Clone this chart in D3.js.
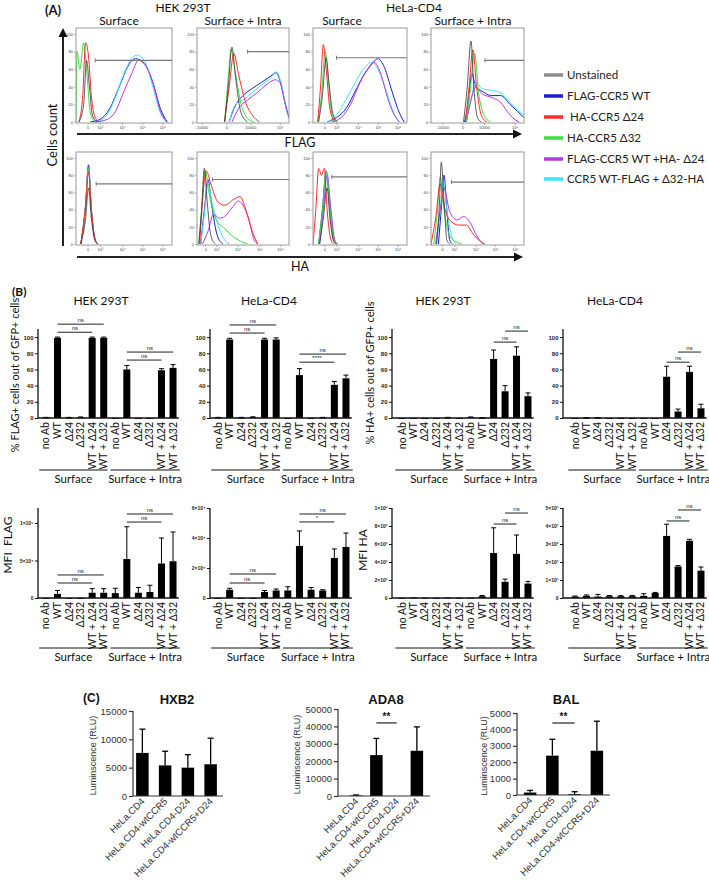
<!DOCTYPE html>
<html><head><meta charset="utf-8">
<script src="https://cdn.jsdelivr.net/npm/d3@7"></script>
<style>body{margin:0;background:#fff}svg{display:block}</style>
</head><body>
<svg id="c" width="709" height="880"></svg>
<script>
// ---------------- DATA ----------------
const seriesNames = ["Unstained","FLAG-CCR5 WT"," HA-CCR5 Δ24","HA-CCR5 Δ32","FLAG-CCR5 WT +HA- Δ24","CCR5 WT-FLAG + Δ32-HA"];
const seriesColors = ["#8c8c8c","#1c1cd2","#ff2a2a","#3edc3e","#b43ae6","#3ee4ff"];
const curveColors  = ["#333333","#1c1cd2","#ff2a2a","#3edc3e","#b43ae6","#3ee4ff"];

// histogram curves: [position fraction along axis, count]; order = seriesNames
const histHekSurfFlag = [
  [[0.03,0],[0.08,20],[0.11,70],[0.14,40],[0.17,8],[0.22,0]],
  [[0.15,0],[0.25,3],[0.35,15],[0.45,40],[0.55,65],[0.62,72],[0.7,68],[0.8,45],[0.88,15],[0.95,0]],
  [[0.03,0],[0.07,30],[0.1,90],[0.13,75],[0.16,30],[0.2,5],[0.25,0]],
  [[0.0,0],[0.01,80],[0.04,60],[0.08,90],[0.11,60],[0.15,10],[0.2,0]],
  [[0.2,0],[0.3,2],[0.4,10],[0.5,35],[0.58,55],[0.65,70],[0.72,65],[0.8,45],[0.88,12],[0.95,0]],
  [[0.2,0],[0.3,5],[0.4,25],[0.5,55],[0.58,72],[0.64,76],[0.72,68],[0.8,40],[0.88,10],[0.94,0]]
];
const histHekSIFlag = [
  [[0.3,0],[0.34,40],[0.38,85],[0.42,50],[0.48,10],[0.55,0]],
  [[0.35,0],[0.4,15],[0.5,30],[0.6,38],[0.7,45],[0.8,52],[0.86,56],[0.92,40],[0.97,15],[1.0,5]],
  [[0.3,0],[0.35,40],[0.4,78],[0.45,55],[0.52,25],[0.6,8],[0.68,0]],
  [[0.3,0],[0.34,50],[0.37,83],[0.41,60],[0.48,20],[0.56,3],[0.62,0]],
  [[0.38,0],[0.45,15],[0.55,25],[0.65,33],[0.75,42],[0.85,48],[0.9,45],[0.95,25],[1.0,5]],
  [[0.35,0],[0.42,20],[0.5,25],[0.6,33],[0.7,42],[0.8,50],[0.86,57],[0.92,42],[0.97,15],[1.0,5]]
];
const histHelaSurfFlag = [
  [[0.06,0],[0.1,30],[0.14,73],[0.17,45],[0.21,10],[0.26,0]],
  [[0.15,0],[0.25,5],[0.35,15],[0.45,35],[0.55,55],[0.62,65],[0.69,72],[0.76,62],[0.84,35],[0.92,10],[0.97,0]],
  [[0.05,0],[0.08,40],[0.11,88],[0.14,60],[0.18,15],[0.23,0]],
  [[0.05,0],[0.09,30],[0.13,80],[0.16,50],[0.2,10],[0.25,0]],
  [[0.2,0],[0.3,5],[0.4,20],[0.5,45],[0.58,60],[0.65,68],[0.72,55],[0.8,25],[0.88,5],[0.92,0]],
  [[0.15,0],[0.25,8],[0.35,25],[0.45,45],[0.55,62],[0.63,68],[0.7,58],[0.78,35],[0.86,10],[0.92,0]]
];
const histHelaSIFlag = [
  [[0.35,0],[0.39,40],[0.43,92],[0.46,40],[0.5,5],[0.54,0]],
  [[0.36,0],[0.4,20],[0.44,55],[0.48,40],[0.55,35],[0.65,30],[0.75,30],[0.85,20],[0.93,12],[1.0,5]],
  [[0.37,0],[0.41,40],[0.45,82],[0.49,40],[0.54,8],[0.6,0]],
  [[0.38,0],[0.42,35],[0.47,78],[0.51,35],[0.57,8],[0.64,0]],
  [[0.38,0],[0.43,25],[0.48,40],[0.55,32],[0.65,28],[0.75,22],[0.82,12],[0.9,3],[0.95,0]],
  [[0.38,0],[0.43,25],[0.48,45],[0.55,38],[0.65,36],[0.75,33],[0.85,22],[0.93,14],[1.0,8]]
];
const histHekSurfHA = [
  [[0.05,0],[0.1,30],[0.13,65],[0.16,30],[0.2,3],[0.23,0]],
  [[0.05,0],[0.1,45],[0.13,92],[0.16,40],[0.2,5],[0.23,0]],
  [[0.05,0],[0.1,45],[0.13,84],[0.16,40],[0.2,5],[0.23,0]],
  [[0.05,0],[0.1,45],[0.13,88],[0.16,40],[0.2,5],[0.23,0]],
  [[0.05,0],[0.1,45],[0.13,90],[0.16,40],[0.2,5],[0.23,0]],
  [[0.05,0],[0.1,45],[0.13,88],[0.16,40],[0.2,5],[0.23,0]]
];
const histHekSIHA = [
  [[0.02,0],[0.05,40],[0.08,88],[0.11,50],[0.15,10],[0.2,0]],
  [[0.04,0],[0.08,40],[0.12,75],[0.16,45],[0.22,10],[0.28,0]],
  [[0.03,0],[0.06,50],[0.1,85],[0.15,70],[0.22,50],[0.3,45],[0.4,52],[0.47,55],[0.53,40],[0.6,15],[0.66,0]],
  [[0.02,0],[0.05,40],[0.09,85],[0.13,60],[0.2,30],[0.3,18],[0.4,8],[0.5,2],[0.55,0]],
  [[0.06,0],[0.12,15],[0.18,35],[0.24,30],[0.3,32],[0.38,42],[0.45,50],[0.5,45],[0.56,30],[0.62,5],[0.66,0]],
  [[0.04,0],[0.08,35],[0.12,70],[0.16,50],[0.22,25],[0.3,5],[0.35,0]]
];
const histHelaSurfHA = [
  [[0.07,0],[0.11,30],[0.15,65],[0.18,30],[0.22,3],[0.25,0]],
  [[0.06,0],[0.1,40],[0.14,85],[0.18,40],[0.22,5],[0.25,0]],
  [[0.0,0],[0.03,40],[0.06,88],[0.09,80],[0.12,88],[0.15,40],[0.19,5],[0.22,0]],
  [[0.06,0],[0.1,40],[0.14,85],[0.18,40],[0.22,5],[0.25,0]],
  [[0.07,0],[0.11,40],[0.15,80],[0.19,40],[0.23,5],[0.26,0]],
  [[0.07,0],[0.11,40],[0.15,82],[0.19,40],[0.23,5],[0.26,0]]
];
const histHelaSIHA = [
  [[0.06,0],[0.09,45],[0.11,95],[0.14,50],[0.17,5],[0.2,0]],
  [[0.08,0],[0.11,40],[0.14,80],[0.17,40],[0.2,5],[0.23,0]],
  [[0.0,0],[0.05,30],[0.1,70],[0.14,45],[0.2,28],[0.3,22],[0.38,22],[0.45,12],[0.53,3],[0.58,0]],
  [[0.03,0],[0.07,40],[0.1,78],[0.14,40],[0.2,10],[0.28,2],[0.33,0]],
  [[0.05,0],[0.1,40],[0.14,65],[0.2,38],[0.28,28],[0.35,32],[0.42,25],[0.5,8],[0.56,0]],
  [[0.06,0],[0.1,40],[0.13,75],[0.17,40],[0.22,10],[0.27,0]]
];
// gates: [start fraction, level]
const histGates = [[0.2,70],[0.55,80],[0.25,73],[0.58,70],[0.21,70],[0.17,75],[0.2,78],[0.22,72]];
const histTicksLog = [[0.12,"0"],[0.25,"10³"],[0.48,"10⁴"],[0.69,"10⁵"],[0.9,"10⁶"]];
const histTicksLinHek = [[0.05,"-10000"],[0.32,"0"],[0.58,"10000"],[0.9,"10⁵"]];
const histTicksLinHela = [[0.12,"-10000"],[0.34,"0"],[0.57,"10000"],[0.9,"10⁵"]];
const histTicksHA = [[0.09,"0"],[0.21,"10³"],[0.44,"10⁴"],[0.68,"10⁵"],[0.9,"10⁶"]];
const histYTicks = [0,20,40,60,80,100];

// Panel B
const barCats = ["no Ab","WT","Δ24","Δ232","WT + Δ24","WT + Δ32","no Ab","WT","Δ24","Δ232","WT + Δ24","WT + Δ32"];
const groupLabels = ["Surface","Surface + Intra"];
const hekFlagPct     = [0.5,99,0.5,0.8,99,99, 0,60,0,0,59,62];
const hekFlagPctErr  = [0.3,1,0.3,0.5,1,1, 0,5,0,0,2,4];
const helaFlagPct    = [0.5,97,0.5,1,97,97, 0,53,0,0.5,41,49];
const helaFlagPctErr = [0.3,1.5,0.3,0.5,1.5,2, 0,8,0,0.3,4,4];
const hekHaPct       = [0,0,0,0,0.5,0, 1,0.3,73,33,77,27];
const hekHaPctErr    = [0,0,0,0,0.3,0, 0.3,0.2,11,7,11,4];
const helaHaPct      = [0,0.3,0.3,0,0,0, 0,0,51,8,57,12];
const helaHaPctErr   = [0,0.2,0.2,0,0,0, 0,0,13,3,7,5];
const hekFlagMfi     = [0,5500,0,0,7000,7000, 6500,52000,7000,8000,46000,49000];
const hekFlagMfiErr  = [0,4500,0,0,5500,5500, 6500,43000,7000,9000,34000,39000];
const helaFlagMfi    = [0,5500,0,0,4000,5000, 5000,34700,5500,5000,26700,34000];
const helaFlagMfiErr = [0,1000,0,0,1000,1000, 2500,10000,1500,500,6000,9300];
const hekHaMfi       = [2,5,2,2,5,3, 3,20,500,180,490,160];
const hekHaMfiErr    = [0,0,0,0,0,0, 0,8,280,30,210,25];
const helaHaMfi      = [8,12,8,10,10,10, 12,28,345,175,318,152];
const helaHaMfiErr   = [3,5,12,4,3,4, 12,3,65,5,8,20];
const pctTicks = [0,20,40,60,80,100];
const pctTickLabels = ["0","20","40","60","80","100"];
const hekFlagMfiTicks = [0,50000,100000];
const hekFlagMfiTickLabels = ["0","5×10⁴","1×10⁵"];
const helaFlagMfiTicks = [0,20000,40000,60000];
const helaFlagMfiTickLabels = ["0","2×10⁴","4×10⁴","6×10⁴"];
const hekHaMfiTicks = [0,200,400,600,800,1000];
const hekHaMfiTickLabels = ["0","2×10²","4×10²","6×10²","8×10²","1×10³"];
const helaHaMfiTicks = [0,100,200,300,400,500];
const helaHaMfiTickLabels = ["0","1×10²","2×10²","3×10²","4×10²","5×10²"];
// significance: [from index, to index, level, label]
const sigHekFlagPct  = [[1,5,116,"ns"],[1,4,106,"ns"],[7,11,81.5,"ns"],[7,10,71.6,"ns"]];
const sigHelaFlagPct = [[1,5,115,"ns"],[1,4,105,"ns"],[7,11,79,"ns"],[7,10,69,"****"]];
const sigHekHaPct    = [[9,11,107.4,"ns"],[8,10,93.8,"ns"]];
const sigHelaHaPct   = [[9,11,81.5,"ns"],[8,10,69,"ns"]];
const sigHekFlagMfi  = [[1,5,30700,"ns"],[1,4,20000,"ns"],[7,11,112000,"ns"],[7,10,101300,"ns"]];
const sigHelaFlagMfi = [[1,5,16000,"ns"],[1,4,10000,"ns"],[7,11,56000,"ns"],[7,10,50700,"*"]];
const sigHekHaMfi    = [[9,11,944,"ns"],[8,10,822,"ns"]];
const sigHelaHaMfi   = [[9,11,489,"ns"],[8,10,428,"ns"]];

// Panel C
const cCats = ["HeLa.CD4","HeLa.CD4-wtCCR5","HeLa.CD4-D24","HeLa.CD4-wtCCR5+D24"];
const hxb2 = [7600,5400,5000,5600];
const hxb2Err = [4200,2500,2300,4600];
const ada8 = [300,23500,0,26000];
const ada8Err = [300,9600,0,13700];
const bal = [150,2400,50,2700];
const balErr = [130,1000,150,1800];
const hxb2Ticks = [0,5000,10000,15000];
const ada8Ticks = [0,10000,20000,30000,40000,50000];
const balTicks = [0,1000,2000,3000,4000,5000];
const sigAda8 = [[1,2,42000,"**"]];
const sigBal = [[1,2,4390,"**"]];

// ---------------- DRAW ----------------
const svg = d3.select("#c");
const LATO = "Lato, 'Open Sans', sans-serif";
const ARIAL = "'Liberation Sans', Arial, sans-serif";
function label(g,x,y,s,size,opt={}){
  const t=g.append("text").attr("x",x).attr("y",y).text(s)
    .attr("font-family",opt.family||LATO).attr("font-size",size)
    .attr("text-anchor",opt.anchor||"middle").attr("fill",opt.fill||"#111");
  if(opt.bold) t.attr("font-weight","bold");
  if(opt.rotate!=null) t.attr("transform",`rotate(${opt.rotate},${x},${y})`);
  return t;
}

// ===== Panel A =====
const A = svg.append("g");
label(A,45,15,"(A)",13,{bold:true,anchor:"start"});
label(A,183,12,"HEK 293T",12);
label(A,414,12,"HeLa-CD4",12);
label(A,119,25,"Surface",12);
label(A,243,25,"Surface + Intra",12);
label(A,342,25,"Surface",12);
label(A,473,25,"Surface + Intra",12);

const histX = [[76,172],[197,289],[313,407],[431,524]];
const histRows = [[28,123],[152,245]];
const histSets = [
  [histHekSurfFlag,histHekSIFlag,histHelaSurfFlag,histHelaSIFlag],
  [histHekSurfHA,histHekSIHA,histHelaSurfHA,histHelaSIHA]
];
const histTickSets = [
  [histTicksLog,histTicksLinHek,histTicksLog,histTicksLinHela],
  [histTicksLog,histTicksHA,histTicksLog,histTicksLog]
];
const drawOrder = [1,5,4,3,2,0];
let clipId=0;
histRows.forEach((row,ri)=>{
  histX.forEach((cx,ci)=>{
    const data = histSets[ri][ci];
    const gate = histGates[ri*4+ci];
    const ticks = histTickSets[ri][ci];
    const g = A.append("g");
    const x = d3.scaleLinear().domain([0,1]).range(cx);
    const y = d3.scaleLinear().domain([0,100]).range([row[1]-1,row[0]+6]);
    const id="clip"+(clipId++);
    g.append("clipPath").attr("id",id).append("rect")
      .attr("x",cx[0]).attr("y",row[0]).attr("width",cx[1]-cx[0]).attr("height",row[1]-row[0]);
    const ya = g.append("g").attr("transform",`translate(${cx[0]},0)`)
      .call(d3.axisLeft(y).tickValues(histYTicks).tickSize(2).tickPadding(1));
    const xa = g.append("g").attr("transform",`translate(0,${row[1]})`)
      .call(d3.axisBottom(x).tickValues(ticks.map(t=>t[0])).tickFormat((d,i)=>ticks[i][1]).tickSize(2).tickPadding(1));
    [ya,xa].forEach(a=>{
      a.select(".domain").remove();
      a.selectAll("line").attr("stroke","#666").attr("stroke-width",0.5);
      a.selectAll("text").attr("font-size",4).attr("font-family",ARIAL).attr("fill","#444");
    });
    const line = d3.line().x(d=>x(d[0])).y(d=>y(d[1])).curve(d3.curveMonotoneX);
    const cg = g.append("g").attr("clip-path",`url(#${id})`);
    drawOrder.forEach(si=>{
      cg.append("path").attr("d",line(data[si])).attr("fill","none")
        .attr("stroke",curveColors[si]).attr("stroke-width",si===0?0.8:1);
    });
    g.append("rect").attr("x",cx[0]).attr("y",row[0]).attr("width",cx[1]-cx[0]).attr("height",row[1]-row[0])
      .attr("fill","none").attr("stroke","#9a9a9a").attr("stroke-width",1);
    const gy = y(gate[1]);
    g.append("line").attr("x1",x(gate[0])).attr("x2",cx[1]).attr("y1",gy).attr("y2",gy)
      .attr("stroke","#777").attr("stroke-width",1.2);
    g.append("line").attr("x1",x(gate[0])).attr("x2",x(gate[0])).attr("y1",gy-2).attr("y2",gy+2)
      .attr("stroke","#777").attr("stroke-width",1);
  });
});
function arrowH(y,x0,x1){
  A.append("line").attr("x1",x0).attr("x2",x1-6).attr("y1",y).attr("y2",y).attr("stroke","#222").attr("stroke-width",2);
  A.append("path").attr("d",`M${x1},${y}L${x1-9},${y-4.5}L${x1-9},${y+4.5}Z`).attr("fill","#111");
}
arrowH(134,77,522);
arrowH(257,77,523);
A.append("line").attr("x1",63).attr("x2",63).attr("y1",246).attr("y2",36).attr("stroke","#222").attr("stroke-width",2);
A.append("path").attr("d",`M63,28L58.5,37L67.5,37Z`).attr("fill","#111");
label(A,300,147,"FLAG",12.5);
label(A,300,271,"HA",12.5);
label(A,57,135,"Cells count",13,{rotate:-90});
const legY = [75,96,117,138,159,179];
seriesNames.forEach((n,i)=>{
  A.append("line").attr("x1",544).attr("x2",563).attr("y1",legY[i]).attr("y2",legY[i])
    .attr("stroke",seriesColors[i]).attr("stroke-width",3.5);
  label(A,567,legY[i]+4,n,11.5,{anchor:"start",fill:"#222"}).style("white-space","pre");
});

// ===== Panel B =====
const B = svg.append("g");
label(B,12,296,"(B)",12,{bold:true,anchor:"start"});
label(B,101,305,"HEK 293T",12);
label(B,269,305,"HeLa-CD4",12);
label(B,443,305,"HEK 293T",12);
label(B,615,305,"HeLa-CD4",12);
label(B,19,375,"% FLAG+ cells out of GFP+ cells",11,{rotate:-90});
label(B,374,373,"% HA+ cells out of GFP+ cells",11,{rotate:-90});
label(B,12,545,"MFI  FLAG",12,{rotate:-90}).style("white-space","pre");
label(B,367,550,"MFI HA",12,{rotate:-90});

function drawBars(cfg){
  const g = svg.append("g");
  const xs = d3.scaleBand().domain(d3.range(cfg.vals.length)).range(cfg.range).paddingInner(0);
  const step = xs.step(), bw = cfg.bw||7;
  const cxp = i=>xs(i)+step/2;
  const y = d3.scaleLinear().domain(cfg.domain).range([cfg.yBase,cfg.yTop]);
  g.selectAll("rect.b").data(cfg.vals).join("rect")
    .attr("x",(d,i)=>cxp(i)-bw/2).attr("y",d=>y(Math.max(d,0)))
    .attr("width",bw).attr("height",d=>Math.max(0.9,y(0)-y(d)))
    .attr("fill","#000");
  cfg.vals.forEach((v,i)=>{
    const e=cfg.errs[i]; if(!e) return;
    const c=cxp(i), yt=y(v+e);
    g.append("line").attr("x1",c).attr("x2",c).attr("y1",y(v)).attr("y2",yt).attr("stroke","#000").attr("stroke-width",1);
    g.append("line").attr("x1",c-2.5).attr("x2",c+2.5).attr("y1",yt).attr("y2",yt).attr("stroke","#000").attr("stroke-width",1);
  });
  const ya = g.append("g").attr("transform",`translate(${cfg.axisX},0)`)
    .call(d3.axisLeft(y).tickValues(cfg.ticks).tickFormat((d,i)=>cfg.tickLabels[i]).tickSize(3).tickPadding(1.5).tickSizeOuter(0));
  ya.select(".domain").attr("d",`M0,${cfg.yBase}V${cfg.yTop}`).attr("stroke","#111").attr("stroke-width",1.3);
  ya.selectAll("line").attr("stroke","#111").attr("stroke-width",1);
  ya.selectAll("text").attr("font-size",cfg.tickFont||6).attr("font-family",ARIAL).attr("font-weight","bold").attr("fill","#222");
  g.append("line").attr("x1",cfg.axisX).attr("x2",cfg.range[1]).attr("y1",cfg.yBase).attr("y2",cfg.yBase)
    .attr("stroke","#111").attr("stroke-width",1.3);
  cfg.cats.forEach((c,i)=>{
    const x0=cxp(i)+3.5, y0=cfg.yBase+4;
    g.append("text").attr("transform",`translate(${x0},${y0}) rotate(-90)`).attr("text-anchor","end")
      .attr("font-family",LATO).attr("font-size",10.5).attr("fill","#111").text(c);
  });
  const half = cfg.vals.length/2;
  [[0,half-1],[half,cfg.vals.length-1]].forEach((gr,k)=>{
    const a = xs(gr[0])+(k===0?-1:1), b = xs(gr[1])+step-(k===0?2:-1);
    g.append("line").attr("x1",a).attr("x2",b).attr("y1",cfg.uY).attr("y2",cfg.uY).attr("stroke","#111").attr("stroke-width",1);
    label(g,(a+b)/2,cfg.uY+13,groupLabels[k],11.5);
  });
  cfg.sigs.forEach(s=>{
    const yy=y(s[2]);
    g.append("line").attr("x1",cxp(s[0])).attr("x2",cxp(s[1])).attr("y1",yy).attr("y2",yy).attr("stroke","#222").attr("stroke-width",1);
    label(g,(cxp(s[0])+cxp(s[1]))/2,yy-2,s[3],6,{family:ARIAL,fill:"#222"});
  });
}
const bx = [{axisX:38,range:[40.2,178.8]},{axisX:210,range:[212.2,351.8]},{axisX:392,range:[396.3,533.7]},{axisX:563,range:[569.3,706.7]}];
const topCfg = {yBase:418,yTop:329,domain:[0,110],ticks:pctTicks,tickLabels:pctTickLabels,uY:470,cats:barCats};
const botCfg = {yBase:598,yTop:508,uY:648,cats:barCats,tickFont:5};
drawBars({...bx[0],...topCfg,vals:hekFlagPct,errs:hekFlagPctErr,sigs:sigHekFlagPct});
drawBars({...bx[1],...topCfg,vals:helaFlagPct,errs:helaFlagPctErr,sigs:sigHelaFlagPct});
drawBars({...bx[2],...topCfg,vals:hekHaPct,errs:hekHaPctErr,sigs:sigHekHaPct});
drawBars({...bx[3],...topCfg,vals:helaHaPct,errs:helaHaPctErr,sigs:sigHelaHaPct});
drawBars({...bx[0],...botCfg,domain:[0,120000],ticks:hekFlagMfiTicks,tickLabels:hekFlagMfiTickLabels,vals:hekFlagMfi,errs:hekFlagMfiErr,sigs:sigHekFlagMfi});
drawBars({...bx[1],...botCfg,domain:[0,60000],ticks:helaFlagMfiTicks,tickLabels:helaFlagMfiTickLabels,vals:helaFlagMfi,errs:helaFlagMfiErr,sigs:sigHelaFlagMfi});
drawBars({...bx[2],...botCfg,domain:[0,1000],ticks:hekHaMfiTicks,tickLabels:hekHaMfiTickLabels,vals:hekHaMfi,errs:hekHaMfiErr,sigs:sigHekHaMfi});
drawBars({...bx[3],...botCfg,domain:[0,500],ticks:helaHaMfiTicks,tickLabels:helaHaMfiTickLabels,vals:helaHaMfi,errs:helaHaMfiErr,sigs:sigHelaHaMfi});

// ===== Panel C =====
const C = svg.append("g");
label(C,83,702,"(C)",12,{bold:true,anchor:"start",family:ARIAL});
label(C,177,704,"HXB2",13,{bold:true,family:ARIAL});
label(C,386,704,"ADA8",13,{bold:true,family:ARIAL});
label(C,566,704,"BAL",13,{bold:true,family:ARIAL});
function drawC(cfg){
  const g = C.append("g");
  const xs = d3.scaleBand().domain(d3.range(cCats.length)).range(cfg.range);
  const cxp = i=>xs(i)+xs.step()/2;
  const y = d3.scaleLinear().domain(cfg.domain).range([cfg.yBase,cfg.yTop]);
  const bw=12.5;
  cfg.vals.forEach((v,i)=>{
    if(v>0) g.append("rect").attr("x",cxp(i)-bw/2).attr("y",y(v)).attr("width",bw).attr("height",y(0)-y(v)).attr("fill","#000");
    const e=cfg.errs[i]; if(!e) return;
    const yt=y(v+e);
    g.append("line").attr("x1",cxp(i)).attr("x2",cxp(i)).attr("y1",y(v)).attr("y2",yt).attr("stroke","#000").attr("stroke-width",1.3);
    g.append("line").attr("x1",cxp(i)-3).attr("x2",cxp(i)+3).attr("y1",yt).attr("y2",yt).attr("stroke","#000").attr("stroke-width",1.3);
  });
  const ya = g.append("g").attr("transform",`translate(${cfg.axisX},0)`)
    .call(d3.axisLeft(y).tickValues(cfg.ticks).tickFormat(d3.format("d")).tickSize(4).tickPadding(2).tickSizeOuter(0));
  ya.select(".domain").attr("d",`M0,${cfg.yBase}V${cfg.yTop}`).attr("stroke","#333").attr("stroke-width",1.2);
  ya.selectAll("line").attr("stroke","#333").attr("stroke-width",1.2);
  ya.selectAll("text").attr("font-size",9.5).attr("font-family",ARIAL).attr("fill","#333");
  g.append("line").attr("x1",cfg.axisX).attr("x2",cfg.xEnd).attr("y1",cfg.yBase).attr("y2",cfg.yBase).attr("stroke","#333").attr("stroke-width",1.2);
  cCats.forEach((c,i)=>{
    g.append("text").attr("transform",`translate(${cxp(i)+3},${cfg.yBase+6}) rotate(-45)`).attr("text-anchor","end")
      .attr("font-family",ARIAL).attr("font-size",9.6).attr("fill","#333").text(c);
  });
  label(g,cfg.labX,(cfg.yBase+cfg.yTop)/2+2,"Luminscence (RLU)",9,{family:ARIAL,rotate:-90,fill:"#333"});
  (cfg.sigs||[]).forEach(s=>{
    const yy=y(s[2]);
    g.append("line").attr("x1",cxp(s[0])).attr("x2",cxp(s[1])).attr("y1",yy).attr("y2",yy).attr("stroke","#222").attr("stroke-width",1.2);
    label(g,(cxp(s[0])+cxp(s[1]))/2,yy-3,s[3],10,{family:ARIAL,bold:true});
  });
}
drawC({axisX:133,range:[131,222],xEnd:223,yBase:796,yTop:711,domain:[0,15000],ticks:hxb2Ticks,vals:hxb2,errs:hxb2Err,labX:96});
drawC({axisX:338,range:[346,427],xEnd:430,yBase:796,yTop:709,domain:[0,50000],ticks:ada8Ticks,vals:ada8,errs:ada8Err,labX:300,sigs:sigAda8});
drawC({axisX:517,range:[519,608],xEnd:610,yBase:795,yTop:713,domain:[0,5000],ticks:balTicks,vals:bal,errs:balErr,labX:487,sigs:sigBal});
</script></body></html>
